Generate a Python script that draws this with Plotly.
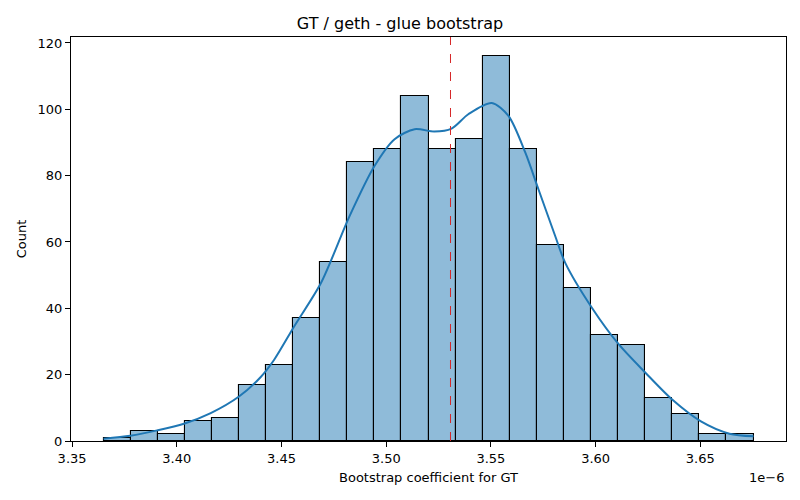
#Histogram of bootstrap coefficients with KDE overlay
import numpy as np
import plotly.graph_objects as go

# bootstrap coefficient (units of 1e-6), 24 bins
bin_lo = 3.3650
bin_hi = 3.6754
counts = [1, 3, 2, 6, 7, 17, 23, 37, 54, 84, 88, 104,
          88, 91, 116, 88, 59, 46, 32, 29, 13, 8, 2, 2]

# kde curve (scaled to counts)
kde_x = [3.3650, 3.3778, 3.3906, 3.4034, 3.4162, 3.4297, 3.4401, 3.4465,
         3.4561, 3.4689, 3.4825, 3.4944, 3.5040, 3.5136, 3.5230, 3.5312,
         3.5392, 3.5504, 3.5584, 3.5664, 3.5727, 3.5807, 3.5855, 3.5983,
         3.6111, 3.6239, 3.6367, 3.6503, 3.6639, 3.6754]
kde_y = [0.7, 1.6, 3.2, 5.2, 8.4, 13.4, 19.3, 24.5,
         34.6, 47.7, 67.8, 82.9, 91.0, 94.0, 93.3, 94.2,
         98.5, 101.9, 98.0, 87.0, 75.9, 61.8, 53.7, 40.1,
         29.1, 20.5, 12.4, 5.9, 2.2, 1.4]

point_estimate = 3.5307

x_ticks = [3.35, 3.40, 3.45, 3.50, 3.55, 3.60, 3.65]
y_ticks = [0, 20, 40, 60, 80, 100, 120]

edges = np.linspace(bin_lo, bin_hi, len(counts) + 1)
centers = (edges[:-1] + edges[1:]) / 2
width = edges[1] - edges[0]

fig = go.Figure()
fig.add_trace(go.Bar(
    x=centers, y=counts, width=width,
    marker=dict(color='rgb(143,187,217)', line=dict(color='black', width=1.1)),
    showlegend=False))
fig.add_trace(go.Scatter(
    x=kde_x, y=kde_y, mode='lines',
    line=dict(color='#1f77b4', width=2, shape='spline', smoothing=0.8),
    showlegend=False))
fig.add_shape(type='line', xref='x', yref='paper',
              x0=point_estimate, x1=point_estimate, y0=0, y1=1,
              line=dict(color='#d62728', width=1, dash='dash'))

"""$$$$$$$$$$$$$$$ FORMATTING $$$$$$$$$$$$$$$$"""
span = bin_hi - bin_lo
fig.update_layout(
    width=800, height=500,
    margin=dict(l=71, r=14, t=37, b=59, autoexpand=False),
    plot_bgcolor='white', paper_bgcolor='white',
    font=dict(family='DejaVu Sans', size=13, color='black'),
    bargap=0,
    title=dict(text='GT / geth - glue bootstrap', x=0.5, xanchor='center',
               y=1 - 23 / 500, yanchor='middle', font=dict(size=16)),
)
fig.update_xaxes(
    range=[bin_lo - 0.05 * span, bin_hi + 0.05 * span],
    tickvals=x_ticks, ticktext=['%.2f' % v for v in x_ticks],
    ticks='outside', ticklen=5, tickcolor='black',
    showline=True, linecolor='black', linewidth=1, mirror=True,
    showgrid=False, zeroline=False, automargin=False,
    title=dict(text='Bootstrap coefficient for GT', font=dict(size=13), standoff=8),
)
fig.update_yaxes(
    range=[0, max(counts) * 1.05],
    tickvals=y_ticks,
    ticks='outside', ticklen=5, tickcolor='black',
    showline=True, linecolor='black', linewidth=1, mirror=True,
    showgrid=False, zeroline=False, automargin=False,
    title=dict(text='Count', font=dict(size=13), standoff=8),
)
fig.add_annotation(text='1e\u22126', xref='paper', yref='paper', x=1, y=0,
                   xanchor='right', yanchor='top', yshift=-27, showarrow=False,
                   font=dict(size=13))
# page has a default body margin, drop it so the figure sits at 0,0
fig.write_html("out.html", config={'displayModeBar': False},
               post_script="document.body.style.margin='0';")
